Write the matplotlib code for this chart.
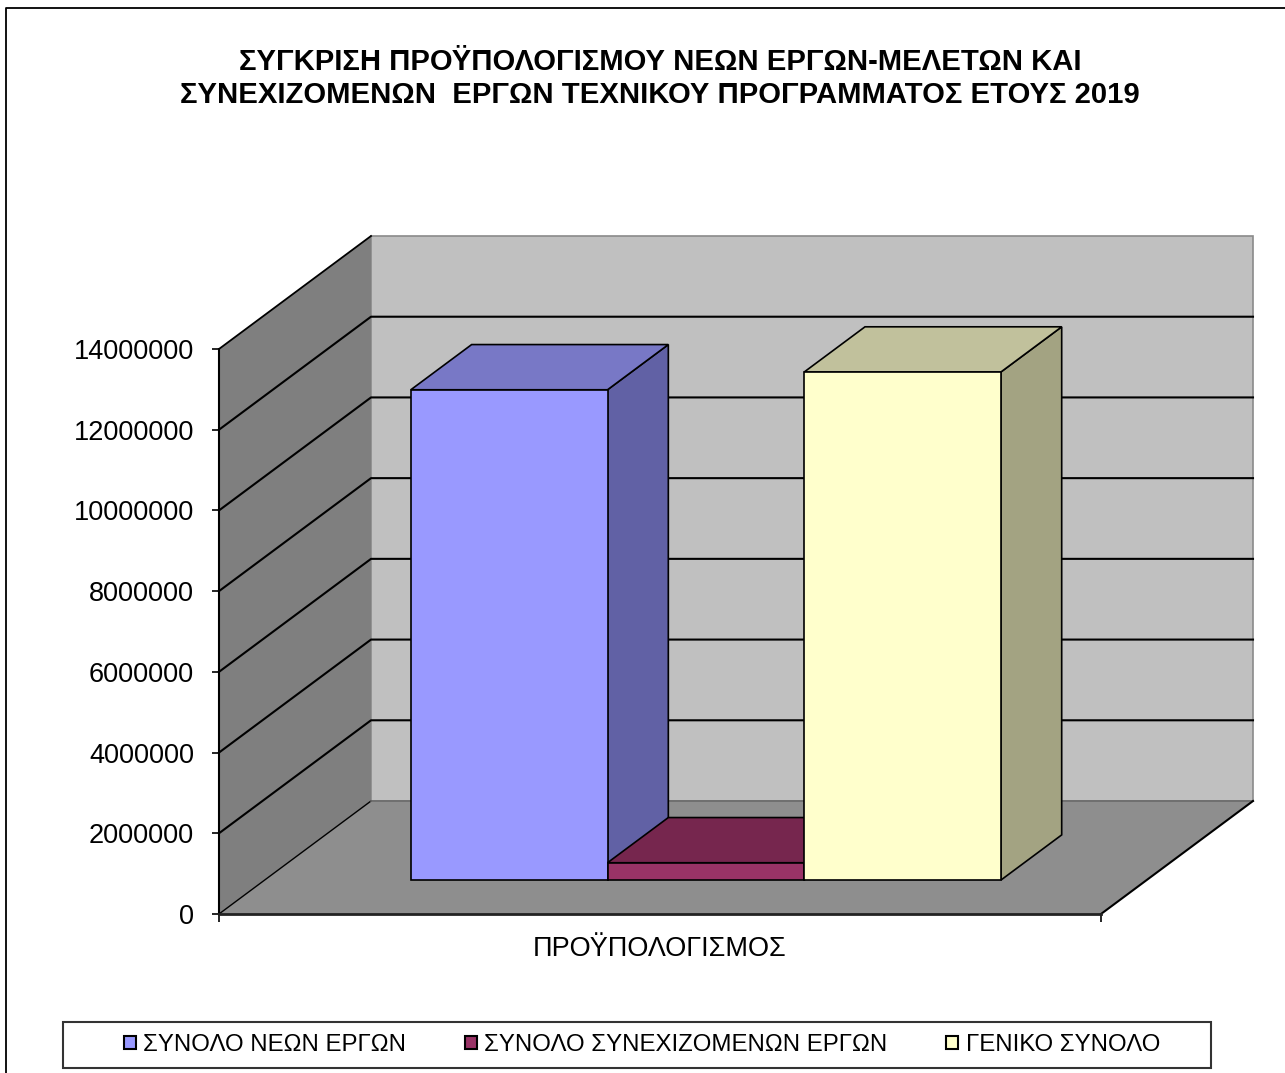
import matplotlib
matplotlib.use("Agg")
import matplotlib.pyplot as plt
from matplotlib.patches import Patch, Rectangle
from matplotlib.lines import Line2D

plt.rcParams['font.family'] = ['Liberation Sans', 'DejaVu Sans']

title = "ΣΥΓΚΡΙΣΗ ΠΡΟΫΠΟΛΟΓΙΣΜΟΥ ΝΕΩΝ ΕΡΓΩΝ-ΜΕΛΕΤΩΝ ΚΑΙ\nΣΥΝΕΧΙΖΟΜΕΝΩΝ  ΕΡΓΩΝ ΤΕΧΝΙΚΟΥ ΠΡΟΓΡΑΜΜΑΤΟΣ ΕΤΟΥΣ 2019"
category = "ΠΡΟΫΠΟΛΟΓΙΣΜΟΣ"
series = ["ΣΥΝΟΛΟ ΝΕΩΝ ΕΡΓΩΝ", "ΣΥΝΟΛΟ ΣΥΝΕΧΙΖΟΜΕΝΩΝ ΕΡΓΩΝ", "ΓΕΝΙΚΟ ΣΥΝΟΛΟ"]
values = [12150000, 430000, 12590000]
yticks = [0, 2000000, 4000000, 6000000, 8000000, 10000000, 12000000, 14000000]
front_colors = ["#9999FF", "#993366", "#FFFFCC"]
top_colors = ["#7878C6", "#76264E", "#C1C19C"]
side_colors = ["#6161A5", "#5E1F40", "#A3A382"]

W, H = 1285, 1073
fig = plt.figure(figsize=(W / 100, H / 100), dpi=100, facecolor="white")
L, R, T, B = 219, 1101, 349, 914
ax = fig.add_axes([L / W, 1 - B / H, (R - L) / W, (B - T) / H])
ymax = yticks[-1]
ax.set_xlim(0, 1)
ax.set_ylim(0, ymax)
ax.patch.set_visible(False)

# depth of the 3-D box, in axis units
DX = 152 / (R - L)
DY = 113 / (B - T) * ymax


def proj(x, v, d):
    return x + d * DX, v + d * DY


def poly(points, **kw):
    xs = [proj(*p)[0] for p in points]
    ys = [proj(*p)[1] for p in points]
    return ax.fill(xs, ys, clip_on=False, **kw)


# walls and floor
poly([(0, 0, 1), (1, 0, 1), (1, ymax, 1), (0, ymax, 1)], fc="#C0C0C0", ec="#8A8A8A", lw=1.2, zorder=1)
poly([(0, 0, 0), (0, 0, 1), (0, ymax, 1), (0, ymax, 0)], fc="#7F7F7F", ec="none", zorder=1)
poly([(0, 0, 0), (1, 0, 0), (1, 0, 1), (0, 0, 1)], fc="#8E8E8E", ec="none", zorder=1)

# gridlines
for v in yticks[1:-1]:
    xs, ys = zip(proj(0, v, 0), proj(0, v, 1), proj(1, v, 1))
    ax.plot(xs, ys, color="black", lw=1.5, clip_on=False, zorder=2)
xs, ys = zip(proj(0, ymax, 0), proj(0, ymax, 1))
ax.plot(xs, ys, color="black", lw=1.3, clip_on=False, zorder=2)
xs, ys = zip(proj(0, 0, 0), proj(0, 0, 1))
ax.plot(xs, ys, color="black", lw=1.0, clip_on=False, zorder=2)
xs, ys = zip(proj(0, 0, 1), proj(1, 0, 1))
ax.plot(xs, ys, color="#6A6A6A", lw=1.2, clip_on=False, zorder=2)
xs, ys = zip(proj(1, 0, 0), proj(1, 0, 1))
ax.plot(xs, ys, color="black", lw=1.5, clip_on=False, zorder=2)

# bars
gap = 0.1658
bw = 0.2230
d0, d1 = 0.30, 0.70
edge = dict(ec="black", lw=1.2)
for i, val in enumerate(values):
    x0 = gap + i * bw
    x1 = x0 + bw
    z = 3 + i
    poly([(x1, 0, d0), (x1, 0, d1), (x1, val, d1), (x1, val, d0)], fc=side_colors[i], zorder=z, **edge)
    poly([(x0, val, d0), (x1, val, d0), (x1, val, d1), (x0, val, d1)], fc=top_colors[i], zorder=z, **edge)
    fx, fy = proj(x0, 0, d0)
    ax.bar(fx, val, width=bw, bottom=fy, align="edge", color=front_colors[i], zorder=z,
           edgecolor="black", linewidth=1.2, clip_on=False)

# axes
for s in ("top", "right"):
    ax.spines[s].set_visible(False)
ax.spines["left"].set_linewidth(1.5)
ax.spines["bottom"].set_linewidth(2)
ax.spines["bottom"].set_color("#222222")
for s in ax.spines.values():
    s.set_zorder(2.5)
ax.set_yticks(yticks)
ax.set_yticklabels([str(v) for v in yticks])
ax.tick_params(axis="y", length=5, width=1.2, pad=13, labelsize=19.5)
ax.set_xticks([0, 1])
ax.set_xticklabels(["", ""])
ax.tick_params(axis="x", which="major", length=5.5, width=1.2)
ax.set_xticks([0.5], minor=True)
ax.set_xticklabels([category], minor=True)
ax.tick_params(axis="x", which="minor", length=0, pad=16, labelsize=19.45)

# title
fig.text(660 / W, 1 - 78.5 / H, title, ha="center", va="center", fontsize=21.1, fontweight="bold",
         linespacing=1.2)

# outer border (only left and top edges fall inside the image)
fig.add_artist(Line2D([6 / W, 6 / W, 1], [0, 1 - 8 / H, 1 - 8 / H], color="black", lw=1.3))

# legend
fig.add_artist(Rectangle((63 / W, 1 - 1068 / H), (1211 - 63) / W, 46 / H, transform=fig.transFigure,
                         fc="white", ec="#333333", lw=1.5))
handles = [Patch(fc=c, ec="black", lw=1.5) for c in front_colors]
leg = fig.legend(handles, series, ncol=3, mode="expand", frameon=False, fontsize=17.25,
                 loc="center", bbox_to_anchor=(124 / W, 1 - 1063 / H, (1160 - 124) / W, 36 / H),
                 borderaxespad=0, borderpad=0, handlelength=0.5, handleheight=0.5, handletextpad=0.3)
leg.set_zorder(5)

fig.savefig("out.png", dpi=100)
